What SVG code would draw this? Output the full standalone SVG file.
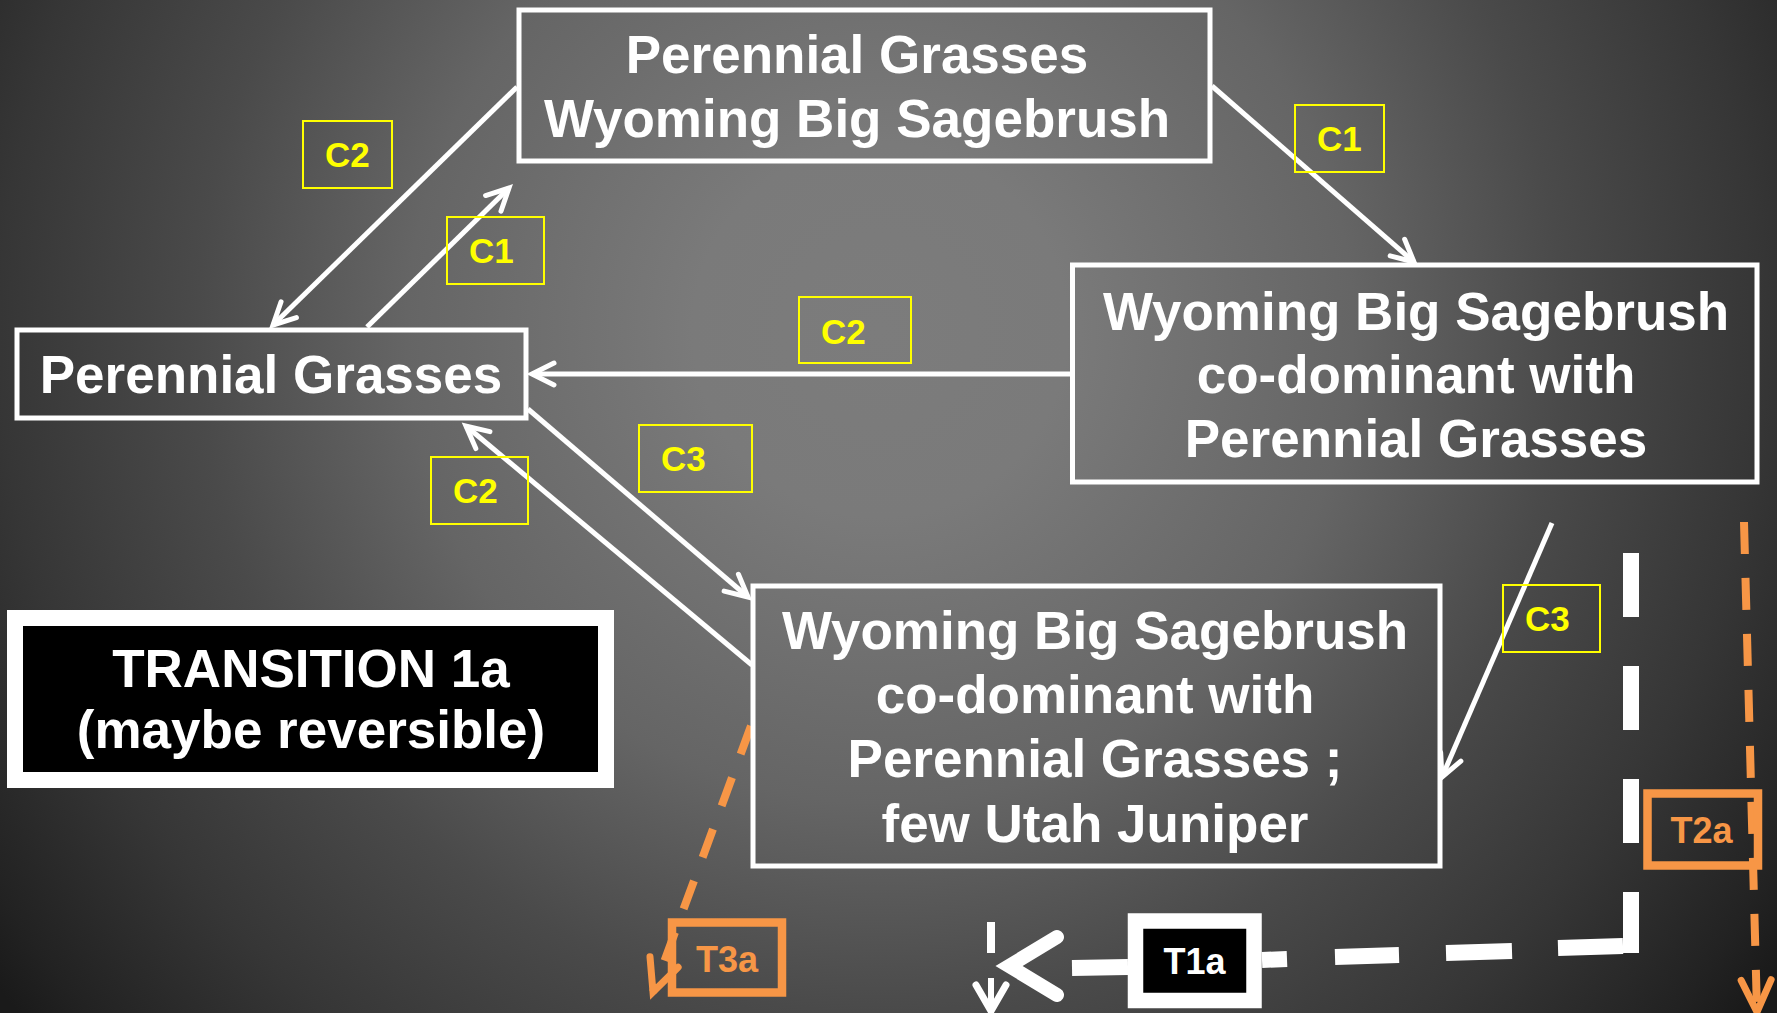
<svg xmlns="http://www.w3.org/2000/svg" width="1777" height="1013" viewBox="0 0 1777 1013">
  <defs>
    <radialGradient id="bg" gradientUnits="userSpaceOnUse" cx="880" cy="330" r="1100">
      <stop offset="0" stop-color="#7c7c7c"/>
      <stop offset="0.17" stop-color="#7a7a7a"/>
      <stop offset="0.43" stop-color="#656565"/>
      <stop offset="0.62" stop-color="#4a4a4a"/>
      <stop offset="0.8" stop-color="#363636"/>
      <stop offset="0.95" stop-color="#222222"/>
      <stop offset="1" stop-color="#1a1a1a"/>
    </radialGradient>
    <marker id="ah" markerUnits="userSpaceOnUse" viewBox="-30 -16 36 32" refX="0" refY="0" markerWidth="36" markerHeight="32" orient="auto" overflow="visible">
      <path d="M-22,-11 L0,0 L-22,11" fill="none" stroke="#ffffff" stroke-width="5" stroke-linecap="round" stroke-linejoin="miter"/>
    </marker>
    <marker id="oh" markerUnits="userSpaceOnUse" viewBox="-40 -20 46 40" refX="0" refY="0" markerWidth="46" markerHeight="40" orient="auto" overflow="visible">
      <path d="M-32,-15 L0,0 L-32,15" fill="none" stroke="#F79646" stroke-width="7" stroke-linecap="round" stroke-linejoin="miter"/>
    </marker>
  </defs>
  <style>
    .node { fill: none; stroke: #ffffff; stroke-width: 5; }
    .nt { font-family: "Liberation Sans", Arial, sans-serif; font-weight: bold; font-size: 53px; fill: #ffffff; text-anchor: middle; }
    .lab { fill: none; stroke: #FFFF00; stroke-width: 2; }
    .lt { font-family: "Liberation Sans", Arial, sans-serif; font-weight: bold; font-size: 35px; fill: #FFFF00; }
    .conn { stroke: #ffffff; stroke-width: 5; fill: none; marker-end: url(#ah); }
    .ora { stroke: #F79646; stroke-width: 8; fill: none; marker-end: url(#oh); }
    .ot { font-family: "Liberation Sans", Arial, sans-serif; font-weight: bold; font-size: 36px; fill: #F79646; text-anchor: middle; }
    .wd { stroke: #ffffff; stroke-width: 16; fill: none; }
  </style>
  <rect x="0" y="0" width="1777" height="1013" fill="url(#bg)"/>

  <g id="connectors">
    <line class="conn" x1="517" y1="87" x2="273" y2="325"/>
    <line class="conn" x1="367" y1="327" x2="509" y2="188"/>
    <line class="conn" x1="1212" y1="86" x2="1414" y2="262"/>
    <line class="conn" x1="1070" y1="374" x2="532" y2="374"/>
    <line class="conn" x1="528" y1="409" x2="748" y2="597"/>
    <line class="conn" x1="752" y1="665" x2="466" y2="426"/>
    <line class="conn" x1="1552" y1="523" x2="1442" y2="777" stroke-width="4"/>
    <line class="ora" x1="751" y1="726" x2="653" y2="992" stroke-dasharray="30 25"/>
    <line class="ora" x1="1744" y1="522" x2="1757" y2="1012" stroke-dasharray="32 24"/>
    <path class="wd" d="M1631,553 V953" stroke-dasharray="64 49"/>
    <path class="wd" d="M1623,946 L1558,948 M1512,951 L1446,953 M1399,955 L1335,957 M1287,959 L1262,960"/>
    <path class="wd" d="M1128,967 L1072,968"/>
    <path d="M1057,937 L1009,966 L1057,995" fill="none" stroke="#ffffff" stroke-width="14" stroke-linecap="round" stroke-linejoin="miter"/>
    <rect x="987" y="922" width="8" height="31" fill="#ffffff"/>
    <line x1="991" y1="978" x2="991" y2="1013" stroke="#ffffff" stroke-width="6"/>
    <path d="M976,985 L991,1011 L1006,985" fill="none" stroke="#ffffff" stroke-width="7" stroke-linecap="round"/>
  </g>

  <g id="node-pg-wbs">
    <rect class="node" x="519" y="10" width="691" height="151"/>
    <text class="nt" x="857" y="73">Perennial Grasses</text>
    <text class="nt" x="857" y="137">Wyoming Big Sagebrush</text>
  </g>

  <g id="node-pg">
    <rect class="node" x="17" y="330" width="509" height="88"/>
    <text class="nt" x="271" y="393">Perennial Grasses</text>
  </g>

  <g id="node-wbs-pg">
    <rect class="node" x="1072.5" y="265" width="684.5" height="217"/>
    <text class="nt" x="1416" y="330">Wyoming Big Sagebrush</text>
    <text class="nt" x="1416" y="393">co-dominant with</text>
    <text class="nt" x="1416" y="457">Perennial Grasses</text>
  </g>

  <g id="node-wbs-pg-juniper">
    <rect class="node" x="753" y="586" width="687" height="280"/>
    <text class="nt" x="1095" y="649">Wyoming Big Sagebrush</text>
    <text class="nt" x="1095" y="713">co-dominant with</text>
    <text class="nt" x="1095" y="777">Perennial Grasses ;</text>
    <text class="nt" x="1095" y="842">few Utah Juniper</text>
  </g>

  <g id="node-transition">
    <rect x="15" y="618" width="591" height="162" fill="#000000" stroke="#ffffff" stroke-width="16"/>
    <text class="nt" x="311" y="687">TRANSITION 1a</text>
    <text class="nt" x="311" y="748">(maybe reversible)</text>
  </g>

  <g id="labels">
    <g id="lab-c2-a"><rect class="lab" x="303" y="121" width="89" height="67"/><text class="lt" x="325" y="167">C2</text></g>
    <g id="lab-c1-a"><rect class="lab" x="447" y="217" width="97" height="67"/><text class="lt" x="469" y="263">C1</text></g>
    <g id="lab-c1-b"><rect class="lab" x="1295" y="105" width="89" height="67"/><text class="lt" x="1317" y="151">C1</text></g>
    <g id="lab-c2-b"><rect class="lab" x="799" y="297" width="112" height="66"/><text class="lt" x="821" y="344">C2</text></g>
    <g id="lab-c3-a"><rect class="lab" x="639" y="425" width="113" height="67"/><text class="lt" x="661" y="471">C3</text></g>
    <g id="lab-c2-c"><rect class="lab" x="431" y="457" width="97" height="67"/><text class="lt" x="453" y="503">C2</text></g>
    <g id="lab-c3-b"><rect class="lab" x="1503" y="585" width="97" height="67"/><text class="lt" x="1525" y="631">C3</text></g>
  </g>

  <g id="node-t1a">
    <rect x="1135.5" y="921" width="118.5" height="79.5" fill="#000000" stroke="#ffffff" stroke-width="15.5"/>
    <text x="1194.5" y="974" font-family="Liberation Sans, Arial, sans-serif" font-weight="bold" font-size="36" fill="#ffffff" text-anchor="middle">T1a</text>
  </g>

  <g id="node-t3a">
    <rect x="672" y="922.5" width="110" height="70" fill="none" stroke="#F79646" stroke-width="8.5"/>
    <text class="ot" x="727" y="972">T3a</text>
  </g>

  <g id="node-t2a">
    <rect x="1647.5" y="793.5" width="110.5" height="72" fill="none" stroke="#F79646" stroke-width="8.5"/>
    <text class="ot" x="1701.5" y="843">T2a</text>
  </g>
</svg>
